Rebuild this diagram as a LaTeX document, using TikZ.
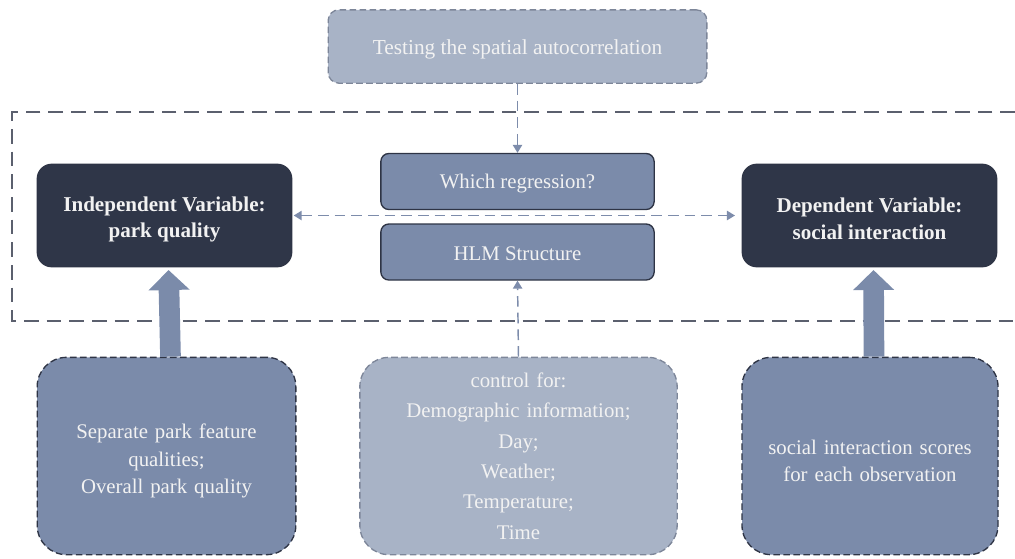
\documentclass[tikz,border=0pt]{standalone}
\usepackage{fontspec}
\setmainfont{Liberation Serif}
\usetikzlibrary{arrows.meta}
\definecolor{navy}{HTML}{2F3648}
\definecolor{midblue}{HTML}{7B8BAA}
\definecolor{lightblue}{HTML}{A8B3C6}
\definecolor{frame}{HTML}{5B606E}
\definecolor{darkedge}{HTML}{2E3445}
\definecolor{greyedge}{HTML}{7D8699}
\definecolor{arrowc}{HTML}{7D8CAB}
\definecolor{txt}{HTML}{F2F2F2}
\newcommand{\lift}[1]{\rule{0pt}{#1}}
\tikzset{
  base/.style={rectangle, align=center, text=txt, inner sep=2pt, font=\fontsize{15.6}{20.5}\selectfont},
  darkbox/.style={base, fill=navy, draw=darkedge, line width=0.8pt, rounded corners=11pt,
     minimum width=191pt, minimum height=77pt, font=\bfseries\fontsize{15.8}{20}\selectfont},
  midbox/.style={base, fill=midblue, draw=darkedge, line width=1pt, rounded corners=6pt,
     minimum width=205pt, minimum height=42pt},
  lowbox/.style={base, draw=darkedge, line width=1pt, dash pattern=on 5pt off 2.5pt,
     rounded corners=22pt, minimum height=148pt, font=\fontsize{15.6}{20.5}\selectfont},
  dasharrow/.style={draw=arrowc, line width=1.1pt, dash pattern=on 8pt off 4.5pt,
     -{Triangle[width=7pt,length=6pt]}},
  fatarrow/.style={draw=midblue, line width=15.5pt, -{Triangle[width=30pt,length=15pt]}},
}
\begin{document}
\begin{tikzpicture}[x=0.75pt,y=-0.75pt]
\useasboundingbox (0,0) rectangle (1015,558);
% outer dashed frame
\draw[frame, line width=1.9pt, dash pattern=on 11pt off 6pt]
  (1015,112) -- (12,112) -- (12,321) -- (1015,321);
% nodes
\node[base, fill=lightblue, draw=greyedge, line width=1pt, dash pattern=on 5pt off 2.5pt,
  rounded corners=8pt, minimum width=284pt, minimum height=55pt,
  font=\fontsize{16}{20}\selectfont] (test) at (517.5,46.5) {\lift{16pt}Testing the spatial autocorrelation};
\node[midbox] (which) at (517.5,181.5) {\lift{13.5pt}Which regression?};
\node[midbox] (hlm) at (517.5,252) {\lift{13pt}HLM Structure};
\node[darkbox] (indep) at (164.5,215.5) {\lift{17pt}Independent Variable:\\park quality};
\node[darkbox] (dep) at (869.5,215.5) {\lift{16pt}Dependent Variable:\\social interaction};
\node[lowbox, fill=midblue, minimum width=194pt, text width=185pt] (sep) at (166.5,456)
  {\lift{18.5pt}Separate park feature\\qualities;\\Overall park quality};
\node[lowbox, fill=lightblue, draw=greyedge, minimum width=238pt, text width=230pt,
  font=\fontsize{15.6}{22.8}\selectfont] (ctrl) at (518.5,456)
  {control for:\\Demographic information;\\Day;\\Weather;\\Temperature;\\Time};
\node[lowbox, fill=midblue, minimum width=192pt, text width=185pt] (soc) at (870,456)
  {\lift{18pt}social interaction scores\\for each observation};
% connectors
\draw[dasharrow] (test.south) -- (which.north);
\draw[dasharrow] (ctrl.north) -- (hlm.south);
\draw[dasharrow, {Triangle[width=7pt,length=6pt]}-{Triangle[width=7pt,length=6pt]}]
  ([xshift=1pt]indep.east) -- ([xshift=-5pt]dep.west);
\draw[fatarrow, shorten >=2pt] ([xshift=3pt]sep.north) -- ([xshift=3pt]indep.south);
\draw[fatarrow, shorten >=2pt] ([xshift=3pt]soc.north) -- ([xshift=3pt]dep.south);
\end{tikzpicture}
\end{document}
